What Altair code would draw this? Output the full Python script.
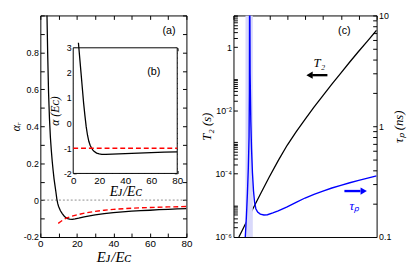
import altair as alt
import pandas as pd

# ---------------- data ----------------
# panel (a): alpha_r vs EJ/EC
alpha_r_x = [3.6, 4.0, 4.5, 5.0, 5.5, 6.0, 6.5, 7.0, 7.5, 8.0, 8.5, 9.0, 9.5, 10, 11, 12, 13, 14, 15, 16,
             17.5, 19, 21, 24, 27, 30, 35, 40, 45, 50, 55, 60, 65, 70, 75, 80]
alpha_r_y = [1.02, 0.80, 0.58, 0.44, 0.34, 0.27, 0.21, 0.16, 0.115, 0.08, 0.045, 0.008, -0.018, -0.035,
             -0.058, -0.073, -0.086, -0.095, -0.100, -0.103, -0.104, -0.102, -0.098, -0.091, -0.085,
             -0.080, -0.073, -0.068, -0.064, -0.060, -0.057, -0.055, -0.052, -0.050, -0.048, -0.046]
approx_r_x = [9.8, 11, 12, 13, 14, 15, 17, 20, 25, 30, 35, 40, 50, 60, 70, 80]
approx_r_y = [-0.126, -0.117, -0.110, -0.104, -0.099, -0.095, -0.088, -0.080, -0.069, -0.061, -0.055,
              -0.050, -0.044, -0.040, -0.037, -0.035]
zero_level = [0.0]

# panel (b): alpha (in units of EC)
alpha_x = [4.0, 5, 6, 7, 8, 9, 10, 11, 12, 13, 14, 15, 16, 18, 20, 22, 25, 30, 40, 50, 60, 70, 80]
alpha_y = [3.2, 2.6, 2.0, 1.4, 0.8, 0.3, -0.15, -0.48, -0.72, -0.88, -0.98, -1.06, -1.12, -1.19, -1.225,
           -1.24, -1.245, -1.235, -1.21, -1.19, -1.17, -1.155, -1.14]
approx_x = [0, 80]
approx_y = [-1, -1]

# panel (c): T2 (s) and tau_p (ns)
t2_x = [3, 5, 10, 15, 20, 25, 30, 35, 40, 45, 50, 55, 60, 65, 70, 75, 80]
t2_y = [1.0e-6, 1.66e-6, 6.3e-6, 2.24e-5, 7.9e-5, 2.6e-4, 7.9e-4, 2.1e-3, 5.2e-3, 1.26e-2, 2.95e-2,
        6.8e-2, 0.151, 0.339, 0.74, 1.58, 3.4]
taup_x = [6.6, 7.2, 7.8, 8.3, 8.7, 8.9, 9.0, 9.1, 9.3, 9.7, 10.1, 10.6, 11.2, 11.8, 12.5, 13.5, 15, 17,
          19, 22, 25, 30, 35, 40, 45, 50, 55, 60, 65, 70, 75, 80]
taup_y = [0.1, 0.15, 0.25, 0.42, 0.8, 2.0, 20, 20, 3.0, 1.1, 0.62, 0.38, 0.26, 0.205, 0.18, 0.168, 0.161,
          0.158, 0.159, 0.165, 0.172, 0.187, 0.205, 0.225, 0.243, 0.26, 0.277, 0.293, 0.309, 0.325,
          0.34, 0.356]
band_lo = [6.7]
band_hi = [10.8]

# tick values
a_xticks = list(range(0, 81, 10))
a_yticks = [round(-0.2 + 0.1 * i, 1) for i in range(13)]
b_xticks = list(range(0, 81, 5))
b_yticks = [round(-2 + 0.2 * i, 1) for i in range(26)]
t2_ticks = [float(f"{i}e{k}") for k in (-6, -4, -2, 0) for i in range(1, 11)]
tp_ticks = [float(f"{i}e{k}") for k in (-1, 0) for i in range(1, 10)] + [10.0]

# annotations
t2_label = {"x": [48], "y": [0.32], "t": ["T₂"]}
t2_arrow = {"x": [44.0], "x2": [52.5], "y": [0.13], "hx": [42.5]}
tp_label = {"x": [67.5], "y": [0.19], "t": ["τₚ"]}
tp_arrow = {"x": [62.0], "x2": [71.0], "y": [0.26], "hx": [72.8]}
panel_a = {"x": [70.5], "y": [0.915], "t": ["(a)"]}
panel_b = {"x": [62], "y": [2.05], "t": ["(b)"]}
panel_c = {"x": [62], "y": [3.3], "t": ["(c)"]}

# ---------------- layout ----------------
W1, W2, H = 149, 146, 226
TK = 4       # main tick length (inward)
TKI = 3      # inset tick length
SANS = "Liberation Sans"
SERIF = "Liberation Serif"
# inset placement inside panel (a), as fractions of the panel
XB0, XB1 = 0.225 * W1, 0.937 * W1
YB0, YB1 = 0.146 * H, 0.713 * H   # top, bottom

base = dict(grid=False, tickColor="black", tickWidth=1, labelFont=SANS, labelFontSize=9,
            labelColor="black", labelOverlap=False, labelFlush=False, titleFont=SERIF,
            titleFontStyle="italic", titleFontWeight="normal", titleColor="black", domain=False)


def ax(orient, values, label_expr=None, title=None, size=TK, offset=None, **kw):
    d = dict(base)
    d.update(kw)
    d["orient"] = orient
    d["values"] = values
    d["tickSize"] = size
    d["offset"] = -size if offset is None else offset
    if label_expr is None:
        d["labels"] = False
    else:
        d["labelExpr"] = label_expr
    d["title"] = title
    return alt.Axis(**d)


lab_x20 = "datum.value % 20 == 0 ? format(datum.value, 'd') : ''"
lab_a_y = ("abs(round(datum.value*10)) % 2 == 0 && datum.value < 0.95 ? "
           "(datum.value < -0.001 ? '-' + format(-datum.value, '.1f') : "
           "(abs(datum.value) < 0.001 ? '0' : format(datum.value, '.1f'))) : ''")
lab_b_y = ("abs(datum.value - round(datum.value)) < 0.001 ? "
           "(datum.value < -0.001 ? '-' : '') + format(round(abs(datum.value)), 'd') : ''")
lab_t2 = ("datum.value == 1 ? '1' : datum.value == 0.01 ? '10⁻²' : datum.value == 0.0001 ? '10⁻⁴' : "
          "datum.value == 0.000001 ? '10⁻⁶' : ''")
lab_tp = "datum.value == 0.1 ? '0.1' : datum.value == 1 ? '1' : datum.value == 10 ? '10' : ''"

# ---------------- panel (a) + inset (b) ----------------
xs_a = alt.Scale(domain=[0, 80], nice=False, zero=False)
ys_a = alt.Scale(domain=[-0.2, 1.0], nice=False, zero=False)
xa = alt.X("x:Q", scale=xs_a, axis=ax("bottom", a_xticks, lab_x20, "Eᴊ/Eᴄ", titleFontSize=15,
                                          labelFontSize=10, titlePadding=1))
ya = alt.Y("y:Q", scale=ys_a, axis=ax("left", a_yticks, lab_a_y, "αᵣ", titleFontSize=12,
                                          titlePadding=1, labelPadding=2))

df_ar = pd.DataFrame({"x": alpha_r_x, "y": alpha_r_y})
df_apr = pd.DataFrame({"x": approx_r_x, "y": approx_r_y})
zero = alt.Chart(pd.DataFrame({"y": zero_level})).mark_rule(
    color="#8c8c8c", strokeDash=[2, 2], strokeWidth=1).encode(y=ya)
black_a = alt.Chart(df_ar).mark_line(color="black", strokeWidth=1.3, clip=True).encode(x=xa, y=ya)
red_a = alt.Chart(df_apr).mark_line(color="#ff0000", strokeWidth=1.4, strokeDash=[5, 3],
                                    clip=True).encode(x=xa, y=ya)
txt_a = alt.Chart(pd.DataFrame(panel_a)).mark_text(font=SANS, fontSize=11, color="black").encode(
    x=xa, y=ya, text="t:N")
main_a = alt.layer(zero, black_a, red_a, txt_a)

mirror_a = alt.Chart(df_ar).mark_line(opacity=0).encode(
    x=alt.X("x:Q", scale=xs_a, axis=ax("top", a_xticks)),
    y=alt.Y("y:Q", scale=ys_a, axis=ax("right", a_yticks)))

xs_b = alt.Scale(domain=[0, 80], range=[XB0, XB1], nice=False, zero=False)
ys_b = alt.Scale(domain=[-2, 3], range=[YB1, YB0], nice=False, zero=False)
xb = alt.X("x:Q", scale=xs_b, axis=ax("bottom", b_xticks, lab_x20, "Eᴊ/Eᴄ", size=TKI,
                                          offset=-(H - YB1) - TKI, titleFontSize=14,
                                          labelFontSize=10, titlePadding=0))
yb = alt.Y("y:Q", scale=ys_b, axis=ax("left", b_yticks, lab_b_y, "α (Eᴄ)", size=TKI,
                                          offset=-XB0 - TKI, titleFontSize=12, titlePadding=2,
                                          labelPadding=2))
df_box = pd.DataFrame({"x": [0], "x2": [80], "y": [-2], "y2": [3]})
box_b = alt.Chart(df_box).mark_rect(fill="white", stroke="black", strokeWidth=1).encode(
    x=xb, x2="x2:Q", y=yb, y2="y2:Q")
black_b = alt.Chart(pd.DataFrame({"x": alpha_x, "y": alpha_y})).mark_line(
    color="black", strokeWidth=1.3, clip=True).encode(x=xb, y=yb)
red_b = alt.Chart(pd.DataFrame({"x": approx_x, "y": approx_y})).mark_line(
    color="#ff0000", strokeWidth=1.4, strokeDash=[5, 3]).encode(x=xb, y=yb)
txt_b = alt.Chart(pd.DataFrame(panel_b)).mark_text(font=SANS, fontSize=11, color="black").encode(
    x=xb, y=yb, text="t:N")
inset_b = alt.layer(box_b, black_b, red_b, txt_b)

mirror_b = alt.Chart(pd.DataFrame({"x": alpha_x, "y": alpha_y})).mark_line(opacity=0).encode(
    x=alt.X("x:Q", scale=xs_b, axis=ax("top", b_xticks, size=TKI, offset=-YB0 - TKI)),
    y=alt.Y("y:Q", scale=ys_b, axis=ax("right", b_yticks, size=TKI, offset=-(W1 - XB1) - TKI)))

left = alt.layer(main_a, mirror_a, inset_b, mirror_b).resolve_scale(
    x="independent", y="independent").properties(width=W1, height=H)

# ---------------- panel (c) ----------------
xs_c = alt.Scale(domain=[0, 80], nice=False, zero=False)
ys_t2 = alt.Scale(type="log", domain=[1e-6, 10], nice=False)
ys_tp = alt.Scale(type="log", domain=[0.1, 10], nice=False)

xc = alt.X("x:Q", scale=xs_c, axis=ax("bottom", a_xticks, lab_x20, "Eᴊ/Eᴄ", titleFontSize=15,
                                          labelFontSize=10, titlePadding=1))
yc = alt.Y("y:Q", scale=ys_t2, axis=ax("left", t2_ticks, lab_t2, "T₂ (s)", titleFontSize=13,
                                           titlePadding=2, labelPadding=2))
t2_line = alt.Chart(pd.DataFrame({"x": t2_x, "y": t2_y})).mark_line(
    color="black", strokeWidth=1.3, clip=True).encode(x=xc, y=yc)
t2_txt = alt.Chart(pd.DataFrame(t2_label)).mark_text(
    font=SERIF, fontStyle="italic", fontSize=13, color="black").encode(x=xc, y=yc, text="t:N")
t2_arr = alt.Chart(pd.DataFrame(t2_arrow)).mark_rule(color="black", strokeWidth=2.4).encode(
    x=xc, x2="x2:Q", y=yc)
t2_head = alt.Chart(pd.DataFrame(t2_arrow)).mark_point(
    shape="triangle-left", filled=True, color="black", size=55, opacity=1).encode(
    x=alt.X("hx:Q", scale=xs_c, axis=None), y=yc)
c_txt = alt.Chart(pd.DataFrame(panel_c)).mark_text(font=SANS, fontSize=11, color="black").encode(
    x=xc, y=yc, text="t:N")
t2_layer = alt.layer(t2_line, t2_txt, t2_arr, t2_head, c_txt)

xcn = alt.X("x:Q", scale=xs_c, axis=None)
ytp = alt.Y("y:Q", scale=ys_tp, axis=ax("right", tp_ticks, lab_tp, "τₚ (ns)", titleFontSize=13,
                                            titlePadding=2, labelPadding=2, titleAngle=270,
                                            titleBaseline="top", titleAlign="center",
                                            titleAnchor="middle"))
band = alt.Chart(pd.DataFrame({"x": band_lo, "x2": band_hi})).mark_rect(
    color="#d9d9fb", clip=True).encode(x=xcn, x2="x2:Q")
tp_line = alt.Chart(pd.DataFrame({"x": taup_x, "y": taup_y})).mark_line(
    color="#0000ff", strokeWidth=1.4, clip=True).encode(x=xcn, y=ytp)
tp_txt = alt.Chart(pd.DataFrame(tp_label)).mark_text(
    font=SERIF, fontStyle="italic", fontSize=13, color="#0000ff").encode(x=xcn, y=ytp, text="t:N")
tp_arr = alt.Chart(pd.DataFrame(tp_arrow)).mark_rule(color="#0000ff", strokeWidth=2.4).encode(
    x=xcn, x2="x2:Q", y=ytp)
tp_head = alt.Chart(pd.DataFrame(tp_arrow)).mark_point(
    shape="triangle-right", filled=True, color="#0000ff", size=55, opacity=1).encode(
    x=alt.X("hx:Q", scale=xs_c, axis=None), y=ytp)
tp_layer = alt.layer(band, tp_line, tp_txt, tp_arr, tp_head)

mirror_c = alt.Chart(pd.DataFrame({"x": t2_x, "y": t2_y})).mark_line(opacity=0).encode(
    x=alt.X("x:Q", scale=xs_c, axis=ax("top", a_xticks)),
    y=alt.Y("y:Q", scale=ys_t2, axis=None))

right = alt.layer(t2_layer, tp_layer, mirror_c).resolve_scale(
    x="independent", y="independent").properties(width=W2, height=H)

chart = alt.hconcat(left, right, spacing=6).properties(
    padding={"left": 0, "top": 0, "right": 0, "bottom": 0}, background="white"
).configure_view(stroke="black", strokeWidth=1)

chart.save("out.html", embed_options={"renderer": "svg", "actions": False})
